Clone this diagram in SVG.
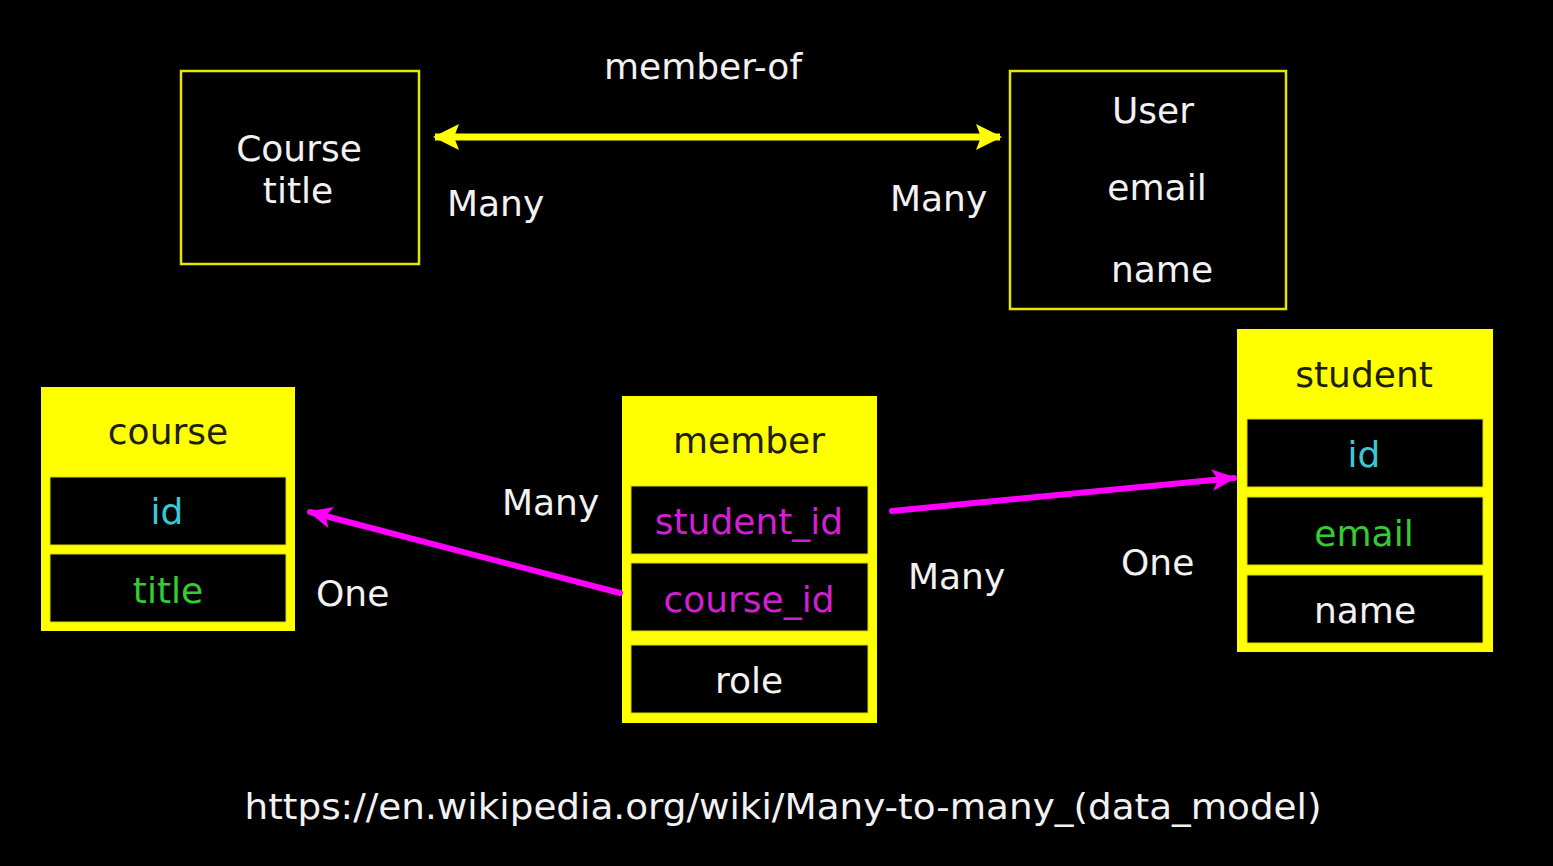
<svg xmlns="http://www.w3.org/2000/svg" width="1553" height="866" viewBox="0 0 1553 866">
<style>
text{font-family:"DejaVu Sans","Liberation Sans",sans-serif;font-size:36px;text-anchor:middle}
.w{fill:#f2f2f2}
.hd{fill:#1e1e00}
.cy{fill:#3ac8d6}
.gr{fill:#33cc33}
.mg{fill:#d21fd2}
.frame{fill:none;stroke:#e6e600;stroke-width:2.5}
.tbl{fill:#ffff00}
.row{fill:#000;stroke:#d8d800;stroke-width:1}
.lbl{text-anchor:start}
</style>
<defs>
<marker id="yhead" markerUnits="userSpaceOnUse" markerWidth="28" markerHeight="28" refX="24" refY="14" orient="auto-start-reverse" viewBox="0 0 28 28">
<path d="M0,1 L26,14 L0,27 L5,14 Z" fill="#ffff00"/>
</marker>
<marker id="mhead" markerUnits="userSpaceOnUse" markerWidth="30" markerHeight="30" refX="24" refY="12" orient="auto" viewBox="0 0 30 24">
<path d="M2,1 L26,12 L2,23 L8,12 Z" fill="#ff00ff"/>
</marker>
</defs>
<rect width="1553" height="866" fill="#000"/>

<g id="course-entity">
<rect class="frame" x="181" y="71" width="238" height="193"/>
<text class="w" x="299" y="161">Course</text>
<text class="w" x="298" y="203">title</text>
</g>

<g id="user-entity">
<rect class="frame" x="1010" y="71" width="276" height="238"/>
<text class="w" x="1153" y="123">User</text>
<text class="w" x="1157" y="200">email</text>
<text class="w" x="1162" y="282">name</text>
</g>

<g id="course-table">
<rect class="tbl" x="41" y="387" width="254" height="244"/>
<text class="hd" x="168" y="444">course</text>
<rect class="row" x="50" y="477" width="236" height="68"/>
<text class="cy" x="167" y="524">id</text>
<rect class="row" x="50" y="554" width="236" height="68"/>
<text class="gr" x="168" y="603">title</text>
</g>

<g id="member-table">
<rect class="tbl" x="622" y="396" width="255" height="327"/>
<text class="hd" x="749" y="453">member</text>
<rect class="row" x="631" y="486" width="237" height="68"/>
<text class="mg" x="749" y="534">student_id</text>
<rect class="row" x="631" y="563" width="237" height="68"/>
<text class="mg" x="749" y="612">course_id</text>
<rect class="row" x="631" y="645" width="237" height="68"/>
<text class="w" x="749" y="693">role</text>
</g>

<g id="student-table">
<rect class="tbl" x="1237" y="329" width="256" height="323"/>
<text class="hd" x="1364" y="387">student</text>
<rect class="row" x="1247" y="419" width="236" height="68"/>
<text class="cy" x="1364" y="467">id</text>
<rect class="row" x="1247" y="497" width="236" height="68"/>
<text class="gr" x="1364" y="546">email</text>
<rect class="row" x="1247" y="575" width="236" height="68"/>
<text class="w" x="1365" y="623">name</text>
</g>

<g id="connectors">
<line x1="435" y1="137" x2="1000" y2="137" stroke="#ffff00" stroke-width="7" marker-start="url(#yhead)" marker-end="url(#yhead)"/>
<line x1="620" y1="593" x2="310" y2="512" stroke="#ff00ff" stroke-width="6" stroke-linecap="round" marker-end="url(#mhead)"/>
<line x1="892" y1="511" x2="1234" y2="478" stroke="#ff00ff" stroke-width="6" stroke-linecap="round" marker-end="url(#mhead)"/>
</g>

<g id="labels">
<text class="w" x="703" y="79">member-of</text>
<text class="w lbl" x="447" y="216">Many</text>
<text class="w lbl" x="890" y="211">Many</text>
<text class="w lbl" x="502" y="515">Many</text>
<text class="w lbl" x="316" y="606">One</text>
<text class="w lbl" x="908" y="589">Many</text>
<text class="w lbl" x="1121" y="575">One</text>
<text class="w" x="783" y="819" textLength="1077" lengthAdjust="spacingAndGlyphs">https://en.wikipedia.org/wiki/Many-to-many_(data_model)</text>
</g>
</svg>
